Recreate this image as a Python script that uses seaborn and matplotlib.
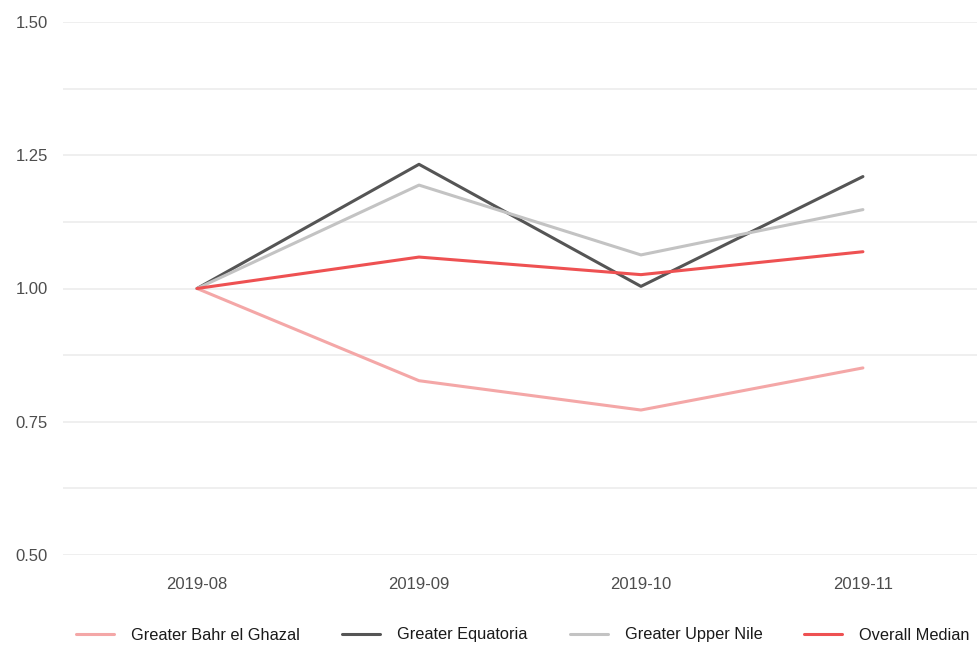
import pandas as pd
import matplotlib.pyplot as plt
from matplotlib.ticker import MultipleLocator
import seaborn as sns

# data
months = ['2019-08', '2019-09', '2019-10', '2019-11']
bahr_el_ghazal = [1.000, 0.827, 0.772, 0.851]
equatoria = [1.000, 1.233, 1.004, 1.210]
upper_nile = [1.000, 1.194, 1.063, 1.148]
overall_median = [1.000, 1.059, 1.026, 1.069]

series_names = ['Greater Bahr el Ghazal', 'Greater Equatoria',
                'Greater Upper Nile', 'Overall Median']
series_values = [bahr_el_ghazal, equatoria, upper_nile, overall_median]
colors = ['#F4A7A7', '#555555', '#C3C3C3', '#EE5152']

df = pd.DataFrame({
    'month': months * len(series_names),
    'value': [v for vals in series_values for v in vals],
    'region': [n for n in series_names for _ in months],
})

sns.set_theme(style='white')
plt.rcParams['font.family'] = ['Liberation Sans', 'DejaVu Sans']

fig = plt.figure(figsize=(9.77, 6.45), dpi=100)
ax = fig.add_axes([63 / 977, 1 - 555 / 645, (977 - 63) / 977, (555 - 22) / 645])

sns.lineplot(data=df, x='month', y='value', hue='region',
             hue_order=series_names, palette=dict(zip(series_names, colors)),
             linewidth=2.2, sort=False, ax=ax)

ax.set_ylim(0.5, 1.5)
ax.set_xlim(-0.604, 3.514)
ax.yaxis.set_major_locator(MultipleLocator(0.25))
ax.yaxis.set_minor_locator(MultipleLocator(0.125))
ax.yaxis.set_major_formatter(lambda v, p: f'{v:.2f}')
ax.grid(axis='y', which='both', color='#EBEBEB', linewidth=1.1)
ax.grid(axis='x', visible=False)
ax.set_axisbelow(True)
for s in ax.spines.values():
    s.set_visible(False)
ax.tick_params(axis='both', length=0, labelsize=12, colors='#4D4D4D')
ax.tick_params(axis='y', pad=11)
ax.tick_params(axis='x', pad=16)
ax.set_xlabel('')
ax.set_ylabel('')

ax.legend_.remove()
handles, labels = ax.get_legend_handles_labels()
fig.legend(handles, labels, loc='center', bbox_to_anchor=(523 / 977, 1 - 635 / 645),
           ncol=4, frameon=False, fontsize=11.75, handlelength=2.33,
           handletextpad=1.04, columnspacing=2.58, labelcolor='#1A1A1A')

fig.savefig('out.png', dpi=100)
